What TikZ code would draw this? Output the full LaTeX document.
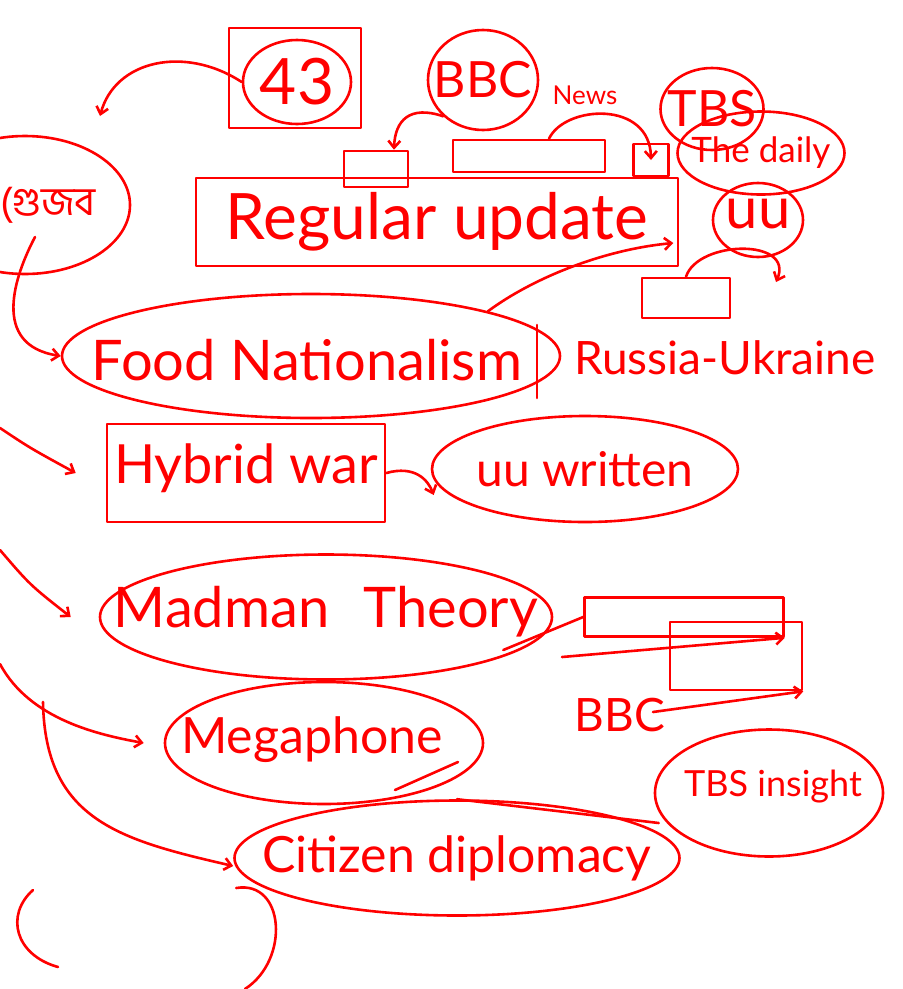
\documentclass[tikz,border=0pt]{standalone}
\usepackage{fontspec}
\setmainfont{Lato}
\newfontfamily\bengfont[Script=Bengali]{Hind Siliguri}
\usetikzlibrary{shapes.geometric,arrows.meta}
\definecolor{inkred}{RGB}{255,0,0}
\tikzset{
  ink/.style={draw=inkred,line width=2.6pt,line cap=round,line join=round},
  tip/.style={-{Straight Barb[length=7pt,width=12pt]}},
  oval/.style={ink,ellipse,inner sep=0pt},
  boxed/.style={ink,rectangle,inner sep=0pt},
  word/.style={text=inkred,inner sep=0pt},
}
\begin{document}
\begin{tikzpicture}[x=1pt,y=-1pt]
    \useasboundingbox (0,0) rectangle (903,989);
    \clip (0,0) rectangle (903,989);

    % 43 and the sources on top
    \node[boxed,minimum width=132pt,minimum height=100pt] (box43) at (295,78) {};
    \node[oval,minimum width=108pt,minimum height=84pt] (n43) at (297,82) {};
    \node[word,font=\fontsize{64}{64}\selectfont] at (n43) {43};
    \coordinate (t43) at (100,116);
    \draw[ink,tip] (n43.west) .. controls (185,45) and (115,60) .. (t43);

    \node[oval,minimum width=110pt,minimum height=100pt] (bbc) at (483,80) {};
    \node[word,font=\fontsize{50}{50}\selectfont] at (bbc) {BBC};
    \node[word,font=\fontsize{26}{26}\selectfont] (news) at (585,95) {News};

    \node[boxed,minimum width=64pt,minimum height=36pt] (bbcA) at (376,169) {};
    \node[boxed,minimum width=152pt,minimum height=32pt] (bbcB) at (529,156) {};
    \node[boxed,minimum width=35pt,minimum height=32pt] (bbcC) at (651,160) {};
    \draw[ink,tip] (bbc.south west) .. controls (410,105) and (395,120) .. ([xshift=18pt]bbcA.north);
    \draw[ink,tip] ([xshift=20pt]bbcB.north) .. controls (565,105) and (650,100) .. (bbcC.center);

    \node[oval,minimum width=103pt,minimum height=82pt] (tbs) at (712,109) {};
    \node[word,font=\fontsize{50}{50}\selectfont] at (tbs) {TBS};
    \node[oval,minimum width=167pt,minimum height=83pt] (daily) at (761,153) {};
    \node[word,font=\fontsize{35}{35}\selectfont] at (daily) {The daily};
    \node[oval,minimum width=90pt,minimum height=74pt] (uu) at (758,220) {};
    \node[word,font=\fontsize{58}{58}\selectfont] at ([yshift=6pt]uu) {uu};

    % regular update
    \node[boxed,minimum width=482pt,minimum height=88pt] (regular) at (437,222) {};
    \node[word,font=\fontsize{64}{64}\selectfont] at (regular) {Regular update};
    \node[boxed,minimum width=88pt,minimum height=40pt] (box4) at (686,298) {};
    \coordinate (hook) at (776,282);
    \draw[ink,tip] (box4.north) .. controls (698,240) and (795,238) .. (hook);

    % left column
    \node[oval,minimum width=210pt,minimum height=138pt] (rumour) at (25,205) {};
    \node[word,font=\bengfont\fontsize{40}{40}\selectfont] at (48,205) {(গুজব};

    \node[oval,minimum width=498pt,minimum height=124pt] (food) at (311,356) {};
    \node[word,font=\fontsize{56}{56}\selectfont] at (307,360) {Food Nationalism};
    \draw[ink,tip] ([shift={(10,32)}]rumour.center) .. controls (15,275) and (-10,345) .. (food.west);
    \draw[ink,tip] (food.north east) .. controls (530,280) and (600,250) .. ([xshift=-6pt,yshift=-21pt]regular.east);
    \draw[ink] (537,325) -- (537,398);
    \node[word,font=\fontsize{46}{46}\selectfont] (russia) at (725,358) {Russia-Ukraine};

    \node[boxed,minimum width=278pt,minimum height=98pt] (hybrid) at (246,473) {};
    \node[word,font=\fontsize{54}{54}\selectfont] at (246,468) {Hybrid war};
    \coordinate (fromA) at (0,428);
    \draw[ink,tip] (fromA) .. controls (30,448) .. ([xshift=-30pt]hybrid.west);
    \node[oval,minimum width=306pt,minimum height=106pt] (uuw) at (585,469) {};
    \node[word,font=\fontsize{48}{48}\selectfont] at (uuw) {uu written};
    \draw[ink,tip] (hybrid.east) .. controls (415,465) and (428,480) .. ([shift={(3,26)}]uuw.west);

    \node[oval,minimum width=452pt,minimum height=125pt] (madman) at (326,617) {};
    \node[word,font=\fontsize{56}{56}\selectfont] at (326,612) {Madman\hspace{20pt} Theory};
    \coordinate (fromB) at (0,550);
    \draw[ink,tip] (fromB) .. controls (30,585) .. ([xshift=-28pt]madman.west);

    % BBC boxes on the right
    \node[boxed,minimum width=199pt,minimum height=39pt] (bbcR1) at (684,617) {};
    \node[boxed,minimum width=132pt,minimum height=68pt] (bbcR2) at (736,656) {};
    \coordinate (lineR1) at (562,657);
    \coordinate (lineR2) at (653,712);
    \draw[ink,tip] (lineR1) -- (bbcR1.south east);
    \draw[ink,tip] (lineR2) -- (bbcR2.south east);
    \draw[ink] ([shift={(-50,33)}]madman.east) -- (bbcR1.west);
    \node[word,font=\fontsize{46}{46}\selectfont] (bbcLow) at (620,715) {BBC};

    \node[oval,minimum width=318pt,minimum height=122pt] (mega) at (324,743) {};
    \node[word,font=\fontsize{50}{50}\selectfont] at (312,740) {Megaphone};
    \draw[ink] (395,790) -- (458,762);
    \coordinate (fromC) at (0,664);
    \draw[ink,tip] (fromC) .. controls (30,720) and (100,735) .. ([xshift=-20pt]mega.west);

    \node[oval,minimum width=445pt,minimum height=115pt] (citizen) at (457,858) {};
    \node[word,font=\fontsize{50}{50}\selectfont] at (457,858) {Citizen diplomacy};
    \coordinate (fromD) at (43,702);
    \draw[ink,tip] (fromD) .. controls (45,820) and (120,840) .. ([yshift=-8pt]citizen.west);
    \node[oval,minimum width=228pt,minimum height=127pt] (tbsi) at (769,793) {};
    \node[word,font=\fontsize{36}{36}\selectfont] at (773,787) {TBS insight};
    \draw[ink] (citizen.north) -- ([shift={(5,30)}]tbsi.west);
    \coordinate (cutB) at (245,989);
    \draw[ink] ([shift={(3,30)}]citizen.west) .. controls (285,880) and (290,960) .. (cutB);

    \draw[ink] (33,890) .. controls (5,915) and (15,955) .. (58,967);
\end{tikzpicture}
\end{document}
